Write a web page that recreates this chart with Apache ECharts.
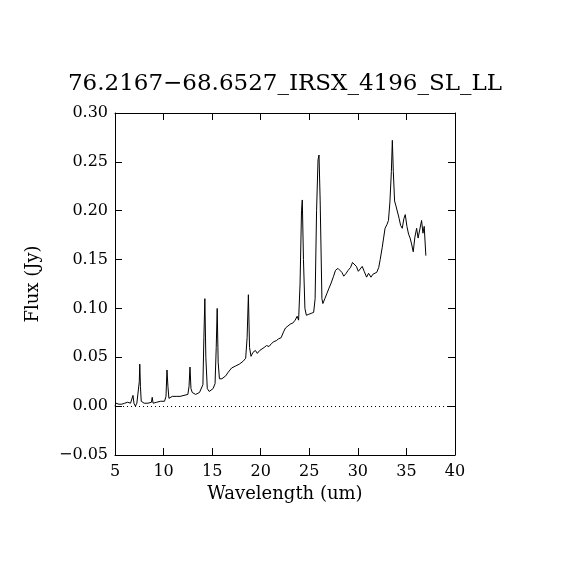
<!DOCTYPE html>
<html>
<head>
<meta charset="utf-8">
<script src="https://cdn.jsdelivr.net/npm/echarts@6/dist/echarts.min.js"></script>
<style>
  html, body { margin: 0; padding: 0; background: #fff; }
  #chart { width: 570px; height: 570px; }
</style>
</head>
<body>
<div id="chart"></div>
<script>
// spectrum
const wavelength = [
  5.00, 5.10, 5.20, 5.30, 5.40, 5.55, 5.70, 5.85, 6.00, 6.15, 6.30, 6.45, 6.60, 6.75, 6.85, 6.95,
  7.10, 7.25, 7.40, 7.50, 7.55, 7.62, 7.70, 7.85, 8.00, 8.20, 8.40, 8.60, 8.75, 8.83, 8.92, 9.10,
  9.30, 9.50, 9.70, 9.90, 10.10, 10.25, 10.35, 10.45, 10.55, 10.70, 10.90, 11.10, 11.30, 11.50,
  11.70, 11.90, 12.10, 12.30, 12.50, 12.62, 12.72, 12.82, 12.95, 13.10, 13.30, 13.50, 13.70,
  13.90, 14.05, 14.15, 14.25, 14.35, 14.50, 14.70, 14.90, 15.10, 15.30, 15.42, 15.52, 15.62,
  15.75, 16.00, 16.20, 16.40, 16.60, 16.80, 17.00, 17.20, 17.40, 17.60, 17.80, 18.00, 18.20,
  18.45, 18.60, 18.73, 18.85, 19.00, 19.20, 19.45, 19.65, 19.90, 20.10, 20.35, 20.60, 20.85,
  21.10, 21.35, 21.60, 21.85, 22.10, 22.35, 22.55, 22.80, 23.05, 23.30, 23.55, 23.75, 23.90,
  24.05, 24.20, 24.28, 24.40, 24.55, 24.70, 24.95, 25.20, 25.45, 25.60, 25.75, 25.90, 26.00,
  26.12, 26.30, 26.40, 26.60, 26.80, 27.00, 27.25, 27.50, 27.70, 27.95, 28.15, 28.35, 28.55,
  28.80, 29.00, 29.25, 29.45, 29.65, 29.85, 30.05, 30.25, 30.45, 30.65, 30.90, 31.10, 31.35,
  31.55, 31.75, 31.95, 32.15, 32.30, 32.50, 32.65, 32.80, 33.00, 33.15, 33.30, 33.45, 33.55,
  33.65, 33.78, 33.92, 34.10, 34.25, 34.40, 34.57, 34.74, 34.88, 35.05, 35.22, 35.38, 35.53,
  35.70, 35.87, 36.05, 36.20, 36.40, 36.56, 36.70, 36.83, 37.00
];
const flux = [
  0.000, 0.003, 0.001, 0.004, 0.002, 0.003, 0.002, 0.004, 0.003, 0.002, 0.004, 0.002, 0.003, 0.005, 0.011, 0.003,
  0.000, 0.003, 0.004, 0.025, 0.043, 0.020, 0.005, 0.004, 0.003, 0.002, 0.003, 0.003, 0.004, 0.009, 0.003, 0.003,
  0.004, 0.004, 0.005, 0.005, 0.005, 0.010, 0.037, 0.020, 0.008, 0.009, 0.010, 0.009, 0.010, 0.009,
  0.010, 0.011, 0.011, 0.012, 0.012, 0.020, 0.040, 0.018, 0.014, 0.013, 0.012, 0.011, 0.014,
  0.016, 0.022, 0.070, 0.110, 0.050, 0.018, 0.015, 0.017, 0.018, 0.023, 0.060, 0.100, 0.045,
  0.028, 0.028, 0.030, 0.031, 0.034, 0.036, 0.039, 0.039, 0.041, 0.040, 0.043, 0.045, 0.046,
  0.049, 0.070, 0.114, 0.060, 0.051, 0.055, 0.057, 0.054, 0.057, 0.055, 0.060, 0.062, 0.061,
  0.064, 0.066, 0.067, 0.069, 0.070, 0.076, 0.080, 0.082, 0.084, 0.085, 0.088, 0.092, 0.088,
  0.125, 0.200, 0.211, 0.150, 0.100, 0.093, 0.094, 0.095, 0.096, 0.110, 0.200, 0.252, 0.257,
  0.210, 0.110, 0.105, 0.110, 0.115, 0.120, 0.126, 0.133, 0.139, 0.141, 0.141, 0.137, 0.133,
  0.136, 0.139, 0.142, 0.147, 0.145, 0.143, 0.138, 0.140, 0.143, 0.138, 0.132, 0.136, 0.132,
  0.135, 0.136, 0.137, 0.142, 0.150, 0.162, 0.172, 0.182, 0.186, 0.190, 0.209, 0.240, 0.272,
  0.240, 0.210, 0.205, 0.204, 0.192, 0.185, 0.182, 0.192, 0.196, 0.184, 0.176, 0.172, 0.166,
  0.158, 0.173, 0.182, 0.172, 0.174, 0.190, 0.177, 0.184, 0.154
];

const titleText = '76.2167\u221268.6527_IRSX_4196_SL_LL';
const xName = 'Wavelength (um)';
const yName = 'Flux (Jy)';

const font = 'DejaVu Serif';
const minus = (s) => s.replace('-', '\u2212');

const chart = echarts.init(document.getElementById('chart'));

const tick = { show: true, inside: true, length: 7, lineStyle: { color: '#000', width: 1 } };
const line = { show: true, onZero: false, lineStyle: { color: '#000', width: 1 } };

chart.setOption({
  animation: false,
  backgroundColor: '#fff',
  title: {
    text: titleText,
    left: 'center',
    top: 68,
    textStyle: { fontFamily: font, fontWeight: 'normal', fontSize: 23, color: '#000' }
  },
  grid: { left: 115, right: 115, top: 113, bottom: 115 },
  xAxis: [
    {
      type: 'value', min: 5, max: 40, interval: 5, position: 'bottom',
      axisLine: line, axisTick: tick, splitLine: { show: false },
      axisLabel: { color: '#000', fontFamily: font, fontSize: 16, margin: 9 },
      name: xName, nameLocation: 'middle', nameGap: 28,
      nameTextStyle: { color: '#000', fontFamily: font, fontSize: 18 }
    },
    {
      type: 'value', min: 5, max: 40, interval: 5, position: 'top',
      axisLine: line, axisTick: tick, splitLine: { show: false },
      axisLabel: { show: false }
    }
  ],
  yAxis: [
    {
      type: 'value', min: -0.05, max: 0.30, interval: 0.05, position: 'left',
      axisLine: line, axisTick: tick, splitLine: { show: false },
      axisLabel: {
        color: '#000', fontFamily: font, fontSize: 16, margin: 7,
        formatter: (v) => minus(v.toFixed(2))
      },
      name: yName, nameLocation: 'middle', nameGap: 73, nameRotate: 90,
      nameTextStyle: { color: '#000', fontFamily: font, fontSize: 18 }
    },
    {
      type: 'value', min: -0.05, max: 0.30, interval: 0.05, position: 'right',
      axisLine: line, axisTick: tick, splitLine: { show: false },
      axisLabel: { show: false }
    }
  ],
  series: [
    {
      type: 'line',
      data: wavelength.map((w, i) => [w, flux[i]]),
      showSymbol: false,
      lineStyle: { color: '#000', width: 1 },
      markLine: {
        silent: true,
        symbol: 'none',
        label: { show: false },
        lineStyle: { color: '#000', type: [1, 3], width: 1 },
        data: [{ yAxis: 0 }]
      }
    }
  ]
});
</script>
</body>
</html>
